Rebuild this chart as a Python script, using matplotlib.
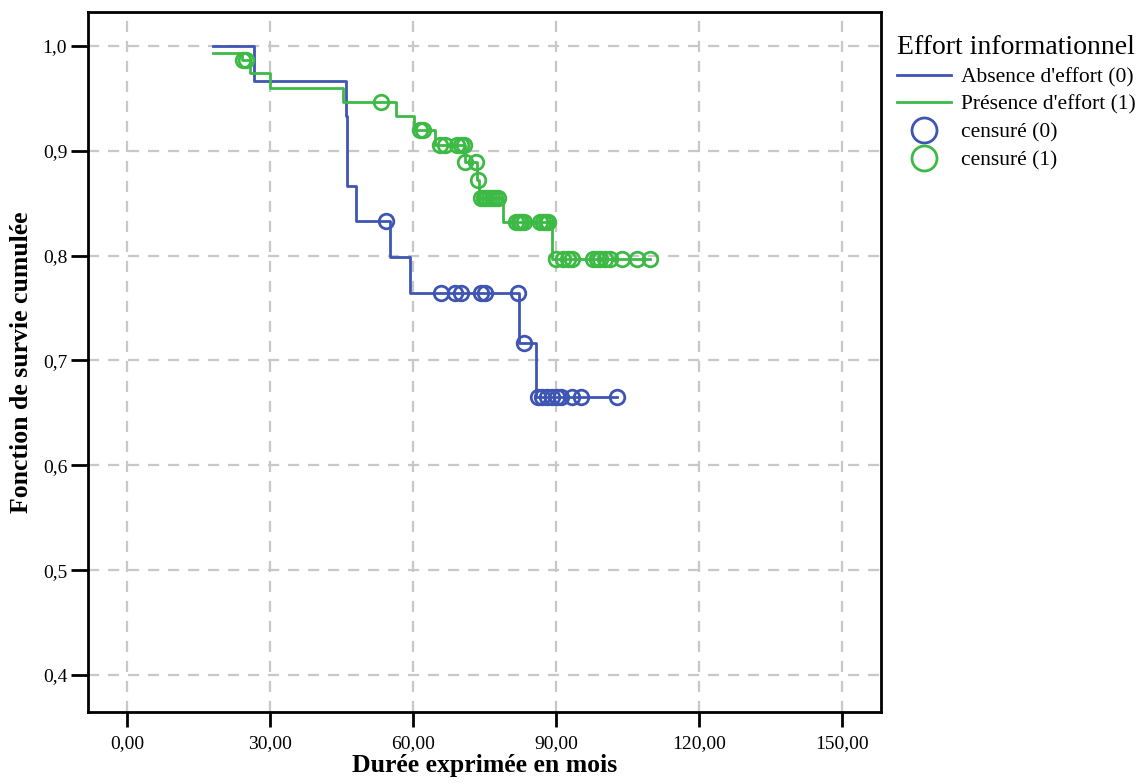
import numpy as np
import matplotlib
matplotlib.use("Agg")
import matplotlib.pyplot as plt
from matplotlib.lines import Line2D

plt.rcParams['font.family'] = ['Liberation Serif', 'DejaVu Serif']

# ---- data ----
# group 0: Absence d'effort
t0 = [18.0, 26.6, 45.9, 46.2, 48.0, 55.2, 59.4, 82.3, 85.9, 102.7]
s0 = [1.0, 0.9667, 0.9333, 0.8667, 0.8333, 0.7986, 0.7639, 0.7163, 0.6655, 0.6655]
c0 = [54.3, 65.8, 68.8, 70.0, 74.2, 75.1, 82.0, 83.3, 86.3, 87.0, 88.0, 89.1,
      90.1, 91.0, 93.3, 95.2, 102.7]

# group 1: Présence d'effort
t1 = [18.0, 24.0, 25.7, 29.9, 45.2, 56.4, 60.3, 64.6, 70.8, 73.5, 73.8, 78.9, 89.1, 109.7]
s1 = [0.9933, 0.9866, 0.974, 0.9602, 0.9469, 0.9333, 0.9198, 0.9055, 0.8896,
      0.8721, 0.8553, 0.8323, 0.7965, 0.7965]
c1 = [24.3, 25.0, 53.3, 61.5, 62.0, 65.7, 66.7, 69.3, 70.0, 70.6, 71.0, 73.2,
      73.6, 74.2, 74.8, 75.4, 76.0, 76.6, 77.2, 77.9, 81.7, 82.2, 82.7, 83.2,
      86.6, 87.2, 87.8, 88.4, 89.9, 91.5, 92.6, 93.3, 97.8, 98.5, 99.2, 100.3,
      101.3, 103.8, 106.9, 109.7]

x_ticks = [0, 30, 60, 90, 120, 150]
x_labels = ['0,00', '30,00', '60,00', '90,00', '120,00', '150,00']
y_ticks = [0.4, 0.5, 0.6, 0.7, 0.8, 0.9, 1.0]
y_labels = ['0,4', '0,5', '0,6', '0,7', '0,8', '0,9', '1,0']

blue = '#3f55b3'
green = '#3dba45'


def level(times, surv, c):
    idx = np.searchsorted(np.array(times), np.array(c), side='right') - 1
    return np.array(surv)[idx]


fig = plt.figure(figsize=(11.42, 7.83), dpi=100)
ax = fig.add_axes([0.0771, 0.0907, 0.6944, 0.894])

ax.step(t0, s0, where='post', color=blue, lw=2, zorder=3)
ax.step(t1, s1, where='post', color=green, lw=2, zorder=3)
ax.plot(c0, level(t0, s0, c0), 'o', ms=10.5, mfc='none', mec=blue, mew=2, zorder=4)
ax.plot(c1, level(t1, s1, c1), 'o', ms=10.5, mfc='none', mec=green, mew=2, zorder=4)

ax.set_xlim(-8.2, 158.2)
ax.set_ylim(0.3647, 1.0324)
ax.set_xticks(x_ticks)
ax.set_xticklabels(x_labels)
ax.set_yticks(y_ticks)
ax.set_yticklabels(y_labels)
ax.tick_params(axis='x', length=11, width=2, labelsize=14, pad=6)
ax.tick_params(axis='y', length=12, width=2, labelsize=14, pad=3)
ax.grid(True, color='#c8c8c8', linestyle=(0, (5, 4)), lw=1.6, zorder=0)
ax.set_axisbelow(True)
for sp in ax.spines.values():
    sp.set_linewidth(2)

ax.set_xlabel('Durée exprimée en mois', fontsize=18.5, fontweight='bold', labelpad=1)
ax.set_ylabel('Fonction de survie cumulée', fontsize=18.5, fontweight='bold', labelpad=7)

handles = [
    Line2D([], [], color=blue, lw=2),
    Line2D([], [], color=green, lw=2),
    Line2D([], [], ls='none', marker='o', ms=18, mfc='none', mec=blue, mew=2),
    Line2D([], [], ls='none', marker='o', ms=18, mfc='none', mec=green, mew=2),
]
labels = ["Absence d'effort (0)", "Présence d'effort (1)", 'censuré (0)', 'censuré (1)']
leg = fig.legend(handles, labels, title='Effort informationnel', loc='upper left',
                 bbox_to_anchor=(0.772, 0.975), frameon=False, fontsize=15.5,
                 title_fontsize=20, handlelength=2.5, handletextpad=0.5,
                 labelspacing=0.35, borderpad=0.2)
leg._legend_box.align = 'left'

fig.savefig('out.png', dpi=100)
